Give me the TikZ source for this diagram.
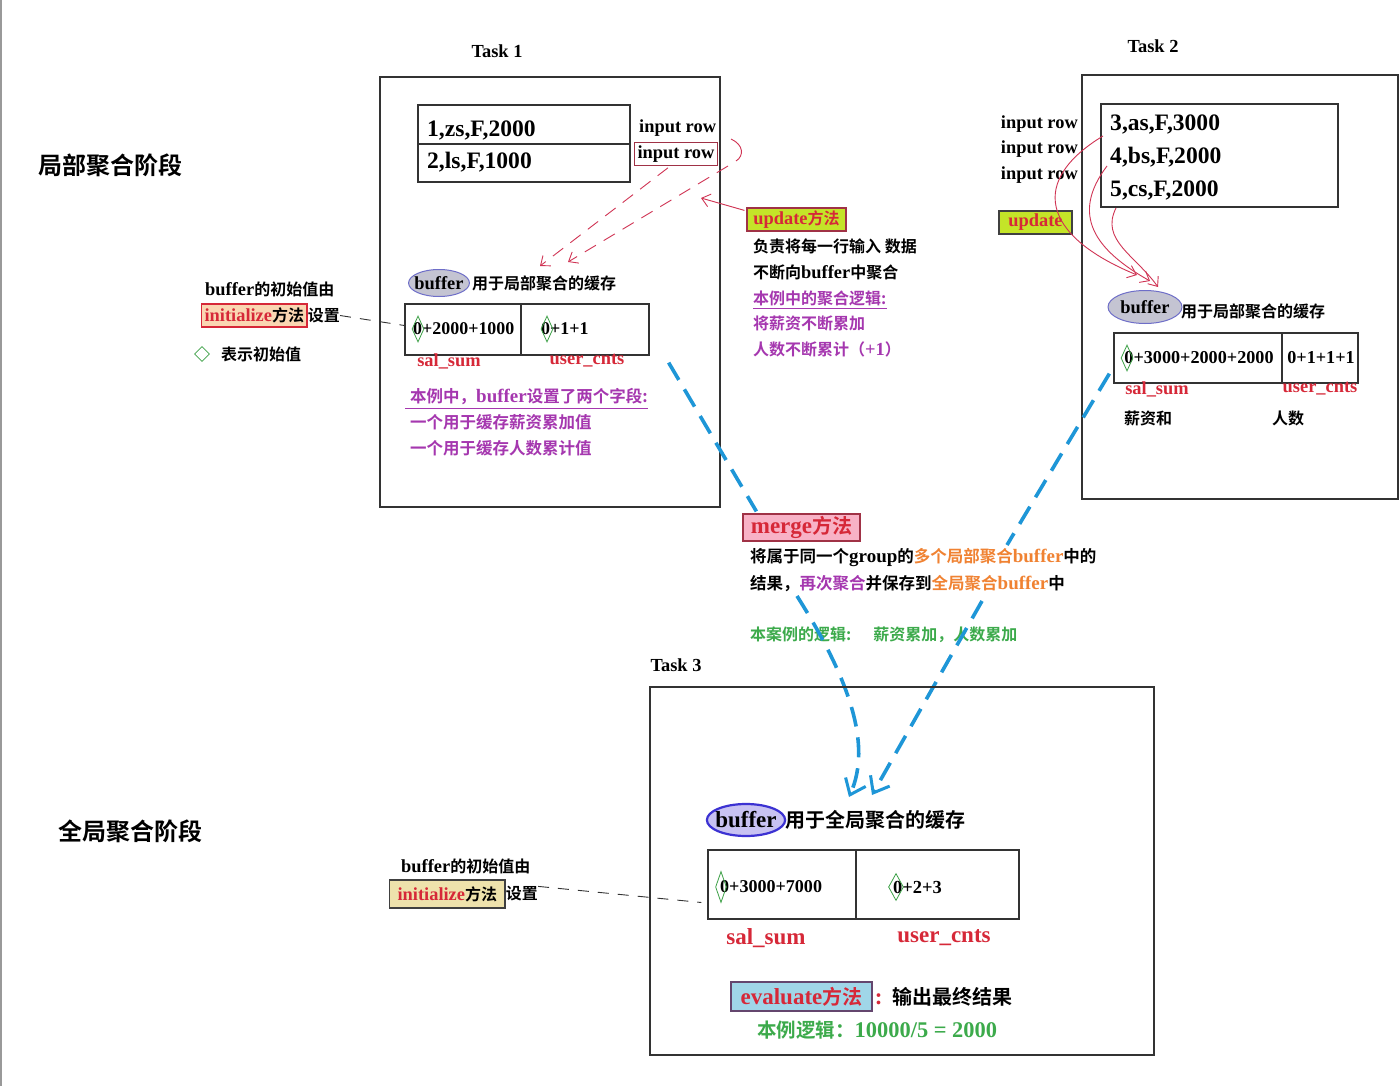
\documentclass[tikz,border=0pt]{standalone}
\usepackage{fontspec}
\setmainfont{Liberation Serif}[Scale=1.15, UprightFont={* Bold}, BoldFont={* Bold}]
\newfontfamily\cjk{Noto Sans CJK SC}[UprightFont={* Bold}, BoldFont={* Bold}]
\usetikzlibrary{shapes.geometric,arrows.meta}
\definecolor{txtred}{RGB}{214,40,56}
\definecolor{boxred}{RGB}{160,50,70}
\definecolor{linered}{RGB}{208,52,84}
\definecolor{txtpurp}{RGB}{165,55,175}
\definecolor{txtorange}{RGB}{240,130,50}
\definecolor{txtgreen}{RGB}{60,170,75}
\definecolor{dashblue}{RGB}{30,150,215}
\definecolor{updgreen}{RGB}{196,228,40}
\definecolor{initorange}{RGB}{250,214,178}
\definecolor{inityellow}{RGB}{238,226,172}
\definecolor{mergepink}{RGB}{248,178,198}
\definecolor{evalblue}{RGB}{160,214,232}
\definecolor{evalborder}{RGB}{100,70,110}
\definecolor{ellgray}{RGB}{196,196,210}
\definecolor{ellblue}{RGB}{110,110,200}
\definecolor{ellpurp}{RGB}{200,194,242}
\definecolor{ellstrong}{RGB}{60,50,210}
\definecolor{diagreen}{RGB}{60,160,70}
\newcommand\fsz[1]{\fontsize{#1}{#1}\selectfont\bfseries}
\newcommand\zh[1]{{\cjk\bfseries #1}}
\tikzset{
  frame/.style={draw=black!80, line width=1.3pt, inner sep=0pt},
  cell/.style={draw=black!80, line width=1.3pt, inner sep=0pt},
  txt/.style={inner sep=0pt, anchor=west},
  rowtxt/.style={inner sep=0pt, anchor=base west, font=\fsz{20.5}},
  methbox/.style={line width=1.2pt, inner sep=0pt},
  diam/.style={diamond, draw=diagreen, line width=0.8pt, inner sep=0pt, minimum width=12pt, minimum height=26pt},
  bufell/.style={ellipse, inner xsep=-3pt, inner ysep=0pt},
  redarrow/.style={draw=linered, line width=0.9pt, -{Straight Barb[length=8pt, width=13pt]}},
  reddash/.style={redarrow, dash pattern=on 13pt off 9pt},
  blkdash/.style={draw=black!80, line width=0.9pt, dash pattern=on 11pt off 9pt},
  bluedash/.style={draw=dashblue, line width=3.6pt, dash pattern=on 20pt off 11pt},
  bluearrow/.style={bluedash, -{Straight Barb[length=14pt, width=22pt, line width=3pt]}}
}
\begin{document}
\begin{tikzpicture}[x=1pt, y=-1pt]
\fill[white] (0,0) rectangle (1400,1086);
\useasboundingbox (0,0) rectangle (1400,1086);
\draw[black!40, line width=2pt] (1,0) -- (1,1086);

% stages
\node[font=\fsz{24}] (stage1) at (110,165) {\zh{局部聚合阶段}};
\node[font=\fsz{24}] (stage2) at (130,831) {\zh{全局聚合阶段}};

% Task 1
\node[font=\fsz{16}] (task1lbl) at (497,51) {Task 1};
\node[frame, minimum width=340pt, minimum height=430pt] (task1) at (550,292) {};
\node[cell, minimum width=212pt, minimum height=39pt] (row1) at (524,124.5) {};
\node[cell, minimum width=212pt, minimum height=38pt] (row2) at (524,163) {};
\node[rowtxt] (row1v) at (427,137) {1,zs,F,2000};
\node[rowtxt] (row2v) at (427,169) {2,ls,F,1000};
\node[txt, font=\fsz{16}] (inrow1) at (639,128) {input row};
\node[draw=boxred, line width=1pt, inner xsep=3pt, inner ysep=3pt, anchor=west, font=\fsz{16}] (inrow2) at (634,154) {input row};
\draw[draw=linered, line width=0.9pt] (731,139) .. controls (744,145) and (744,156) .. (736,161);
\coordinate (arcfoot) at (728,166);
\coordinate (buftip1) at (540,266);
\coordinate (buftip2) at (568,262);
\draw[reddash] ([xshift=-8pt,yshift=-2pt]inrow2.south) -- (buftip1);
\draw[reddash] (arcfoot) -- (buftip2);

% update (Task 1)
\node[methbox, draw=boxred, fill=updgreen, font=\fsz{16}, text=txtred, minimum width=99pt, minimum height=23pt] (upd1) at (796.5,219.5) {update\zh{方法}};
\coordinate (updtip) at (701,198);
\draw[redarrow] ([xshift=-2pt,yshift=-3pt]upd1.north west) -- (updtip);
\node[txt, font=\fsz{16}] (upd1a) at (753,246) {\zh{负责将每一行输入 数据}};
\node[txt, font=\fsz{16}] (upd1b) at (753,272) {\zh{不断向}buffer\zh{中聚合}};
\node[txt, font=\fsz{16}, text=txtpurp] (upd1c) at (753,298) {\zh{本例中的聚合逻辑:}};
\draw[txtpurp, line width=0.9pt] ([yshift=-3pt]upd1c.south west) -- ([yshift=-3pt]upd1c.south east);
\node[txt, font=\fsz{16}, text=txtpurp] (upd1d) at (753,323) {\zh{将薪资不断累加}};
\node[txt, font=\fsz{16}, text=txtpurp] (upd1e) at (753,349) {\zh{人数不断累计（}+1\zh{）}};

% buffer (Task 1)
\node[bufell, draw=ellblue, fill=ellgray, line width=1pt, minimum width=60pt, minimum height=27pt, font=\fsz{16}] (buf1) at (439,283) {buffer};
\node[txt, font=\fsz{16}] (buf1lbl) at ([xshift=2pt]buf1.east) {\zh{用于局部聚合的缓存}};
\node[cell, minimum width=116pt, minimum height=51pt] (sal1) at (463,329.5) {};
\node[cell, minimum width=128pt, minimum height=51pt] (cnt1) at (585,329.5) {};
\node[txt, font=\fsz{15.6}] (sal1v) at (413,329) {0+2000+1000};
\node[txt, font=\fsz{15.6}] (cnt1v) at (541,329) {0+1+1};
\node[diam] (dia1a) at (418,329) {};
\node[diam] (dia1b) at (547,329) {};
\node[font=\fsz{16}, text=txtred, inner sep=0pt] (ss1) at (449,361) {sal\_sum};
\node[font=\fsz{16}, text=txtred, inner sep=0pt] (uc1) at (587,361) {user\_cnts};
\node[txt, font=\fsz{16.5}, text=txtpurp] (note1) at (410,397) {\zh{本例中，}buffer\zh{设置了两个字段:}};
\draw[txtpurp, line width=0.9pt] ([xshift=-5pt,yshift=-3pt]note1.south west) -- ([yshift=-3pt]note1.south east);
\node[txt, font=\fsz{16.5}, text=txtpurp] (note2) at (410,422) {\zh{一个用于缓存薪资累加值}};
\node[txt, font=\fsz{16.5}, text=txtpurp] (note3) at (410,448) {\zh{一个用于缓存人数累计值}};

% initial value (Task 1)
\node[txt, font=\fsz{16}] (init1a) at (205,289) {buffer\zh{的初始值由}};
\node[methbox, draw=txtred, fill=initorange, anchor=west, font=\fsz{16}, inner xsep=3pt, minimum height=23pt] (init1) at (201,315.5) {\textcolor{txtred}{initialize}\zh{方法}};
\node[txt, font=\fsz{16}] (init1b) at (init1.east) {\zh{设置}};
\draw[blkdash] (init1b.east) -- ([yshift=4pt]sal1.west);
\node[diam, minimum width=15pt, minimum height=15pt] (legdia) at (202,354) {};
\node[txt, font=\fsz{16}] (legtxt) at (221,354) {\zh{表示初始值}};

% Task 2
\node[font=\fsz{16}] (task2lbl) at (1153,46) {Task 2};
\node[frame, minimum width=316pt, minimum height=424pt] (task2) at (1240,287) {};
\node[cell, minimum width=237pt, minimum height=103pt] (rows2) at (1219.5,155.5) {};
\node[rowtxt] (row3v) at (1110,131) {3,as,F,3000};
\node[rowtxt] (row4v) at (1110,164) {4,bs,F,2000};
\node[rowtxt] (row5v) at (1110,197) {5,cs,F,2000};
\node[font=\fsz{16}, anchor=east, inner sep=0pt] (inrow3) at (1078,124) {input row};
\node[font=\fsz{16}, anchor=east, inner sep=0pt] (inrow4) at (1078,149) {input row};
\node[font=\fsz{16}, anchor=east, inner sep=0pt] (inrow5) at (1078,175) {input row};
\node[methbox, draw=black!75, fill=updgreen, font=\fsz{16}, text=txtred, minimum width=73pt, minimum height=23pt] (upd2) at (1035.5,222.5) {update};
\coordinate (r3) at (1103,136);
\coordinate (r4) at (1107,166);
\coordinate (r5) at (1116,208);
\coordinate (buftip3) at (1137,275);
\coordinate (buftip4) at (1150,281);
\coordinate (buftip5) at (1158,287);
\draw[redarrow] (r3) .. controls (1030,180) and (1040,235) .. (buftip3);
\draw[redarrow] (r4) .. controls (1070,215) and (1095,250) .. (buftip4);
\draw[redarrow] (r5) .. controls (1100,240) and (1135,255) .. (buftip5);

% buffer (Task 2)
\node[bufell, draw=ellblue, fill=ellgray, line width=1pt, minimum width=74pt, minimum height=33pt, font=\fsz{16}] (buf2) at (1145,307) {buffer};
\node[txt, font=\fsz{16}] (buf2lbl) at (1181,311) {\zh{用于局部聚合的缓存}};
\node[cell, minimum width=168pt, minimum height=50pt] (sal2) at (1198,358) {};
\node[cell, minimum width=76pt, minimum height=50pt] (cnt2) at (1320,358) {};
\node[font=\fsz{15.8}, inner sep=0pt] (sal2v) at (1199,358) {0+3000+2000+2000};
\node[font=\fsz{15.8}, inner sep=0pt] (cnt2v) at (1321,358) {0+1+1+1};
\node[diam] (dia2) at (1127,358) {};
\node[font=\fsz{16}, text=txtred, inner sep=0pt] (ss2) at (1157,389) {sal\_sum};
\node[font=\fsz{16}, text=txtred, inner sep=0pt] (uc2) at (1320,389) {user\_cnts};
\node[font=\fsz{16}, inner sep=0pt] (sum2) at (1148,418) {\zh{薪资和}};
\node[font=\fsz{16}, inner sep=0pt] (num2) at (1288,418) {\zh{人数}};

% merge
\node[methbox, draw=boxred, fill=mergepink, font=\fsz{20}, text=txtred, minimum width=117pt, minimum height=27pt] (merge) at (801.5,527.5) {merge\zh{方法}};
\node[txt, font=\fsz{16.5}] (merge1) at (750,558) {\zh{将属于同一个}group\zh{的}\textcolor{txtorange}{\zh{多个局部聚合}buffer}\zh{中的}};
\node[txt, font=\fsz{16.5}] (merge2) at (750,584) {\zh{结果，}\textcolor{txtpurp}{\zh{再次聚合}}\zh{并保存到}\textcolor{txtorange}{\zh{全局聚合}buffer}\zh{中}};
\node[txt, font=\fsz{16}, text=txtgreen] (merge3) at (750,635) {\zh{本案例的逻辑:}\hspace{22pt}\zh{薪资累加，人数累加}};
\coordinate (mergeR) at (1007,545);
\coordinate (dropL) at (797,596);
\coordinate (dropR) at (982,601);
\coordinate (tipL) at (849,797);
\coordinate (tipR) at (872,795);
\draw[bluedash] ([xshift=19pt,yshift=-7pt]cnt1.south east) -- ([xshift=14pt,yshift=2pt]merge.north west);
\draw[bluedash] ([xshift=-4pt,yshift=10pt]sal2.south west) -- (mergeR);
\draw[bluearrow] (dropL) .. controls (850,680) and (872,745) .. (tipL);
\draw[bluearrow] (dropR) -- (tipR);

% Task 3
\node[font=\fsz{16}] (task3lbl) at (676,665) {Task 3};
\node[frame, minimum width=504pt, minimum height=368pt] (task3) at (902,871) {};
\node[bufell, draw=ellstrong, fill=ellpurp, line width=2.2pt, minimum width=78pt, minimum height=32pt, font=\fsz{20}] (buf3) at (746,820) {buffer};
\node[txt, font=\fsz{20}] (buf3lbl) at (785,820) {\zh{用于全局聚合的缓存}};
\node[cell, minimum width=148pt, minimum height=69pt] (sal3) at (782,884.5) {};
\node[cell, minimum width=163pt, minimum height=69pt] (cnt3) at (937.5,884.5) {};
\node[txt, font=\fsz{15.7}] (sal3v) at (720,887) {0+3000+7000};
\node[txt, font=\fsz{16}] (cnt3v) at (893,887) {0+2+3};
\node[diam, minimum width=11pt, minimum height=31pt] (dia3a) at (721,887) {};
\node[diam, minimum width=15pt, minimum height=27pt] (dia3b) at (896,887) {};
\node[font=\fsz{20}, text=txtred, inner sep=0pt] (ss3) at (766,938) {sal\_sum};
\node[font=\fsz{20}, text=txtred, inner sep=0pt] (uc3) at (944,938) {user\_cnts};

% initial value (Task 3)
\node[txt, font=\fsz{16}] (init3a) at (401,866) {buffer\zh{的初始值由}};
\node[methbox, draw=black!75, fill=inityellow, anchor=west, font=\fsz{16}, inner xsep=8pt, minimum height=28pt] (init3) at (389,894) {\textcolor{txtred}{initialize}\zh{方法}};
\node[txt, font=\fsz{16}] (init3b) at (init3.east) {\zh{设置}};
\draw[blkdash] (init3b.north east) -- ([xshift=-6pt,yshift=-18pt]sal3.west);

% evaluate
\node[methbox, draw=evalborder, fill=evalblue, font=\fsz{20}, text=txtred, minimum width=141pt, minimum height=29pt] (eval) at (801.5,996.5) {evaluate\zh{方法}};
\node[txt, font=\fsz{20}] (evaltxt) at ([xshift=2pt]eval.east) {\textcolor{txtred}{:}\hspace{10pt}\zh{输出最终结果}};
\node[txt, font=\fsz{19.5}, text=txtgreen] (evallogic) at (757,1030) {\zh{本例逻辑：}10000/5 = 2000};
\end{tikzpicture}
\end{document}
